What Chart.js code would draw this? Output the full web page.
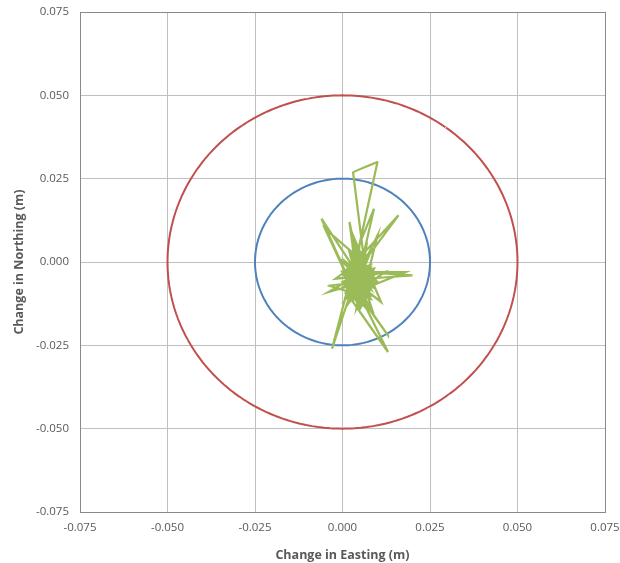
<!DOCTYPE html>
<html>
<head>
<meta charset="utf-8">
<script src="https://cdn.jsdelivr.net/npm/chart.js@4"></script>
<style>
	body { margin: 0; background: #fff; }
	#wrap { width: 620px; height: 563px; }
</style>
</head>
<body>
<div id="wrap"><canvas id="myChart"></canvas></div>
<script>
// axis ticks (m)
const tickValues = [-0.075, -0.05, -0.025, 0, 0.025, 0.05, 0.075];

// tolerance circles (radius in m)
const circleRadii = [0.025, 0.05];
const circleColors = ['#4F81BD', '#C0504D'];

// position changes
const eastings = [
	0.002, 0.005, 0.003, 0.007, 0.004, 0.006, 0.001, 0.008, 0.003, 0.005,
	0.010, 0.003, 0.006, 0.004, 0.009, 0.002, 0.016, 0.004, -0.006, 0.003,
	0.006, -0.005, 0.002, 0.007, 0.020, 0.005, 0.018, 0.004, 0.006, 0.003,
	0.013, 0.005, 0.013, 0.002, -0.003, 0.004, -0.004, 0.006, -0.004, 0.008,
	0.001, 0.009, 0.003, 0.005, 0.002, 0.006, 0.010, 0.004, 0.012, 0.002,
	0.007, 0.004, 0.009, -0.002, 0.006, 0.003, 0.008, 0.000, 0.011, 0.005,
	0.002, 0.007, 0.003, 0.010, 0.001, 0.006, -0.001, 0.008, 0.004, 0.009,
	0.003, 0.005, 0.002, 0.007, 0.004, 0.001, 0.006, 0.003, 0.008, 0.005,
	0.002, 0.006, 0.004, 0.007, 0.001, 0.005, 0.003, 0.008, 0.002, 0.006,
	0.004, 0.003, 0.007, 0.001, 0.005, 0.009, 0.002, 0.004, 0.006, 0.003,
	0.005, 0.001, 0.007, 0.004, 0.002, 0.008, 0.003, 0.006, 0.005, 0.002,
	0.004, 0.007, 0.003, 0.005, 0.006, 0.002, 0.004, 0.008, 0.003, 0.005,
	0.000, 0.006, 0.002, 0.009, 0.004, 0.001, 0.007, 0.003, 0.005, 0.008,
	0.001, 0.004, 0.006, 0.002, 0.007, 0.003, 0.009, 0.005, 0.000, 0.006,
	0.004, 0.008, 0.002, 0.005, 0.003, 0.007, 0.001, 0.006, 0.004, 0.003
];
const northings = [
	-0.003, 0.002, -0.006, -0.002, 0.004, -0.008, -0.004, 0.003, -0.010, 0.006,
	0.030, 0.027, 0.002, -0.007, 0.016, -0.002, 0.014, -0.003, 0.013, -0.008,
	0.000, 0.010, -0.006, -0.005, -0.004, -0.003, -0.003, -0.009, 0.004, -0.012,
	-0.027, -0.010, -0.022, -0.006, -0.026, -0.004, -0.009, -0.006, -0.007, -0.011,
	0.000, -0.007, 0.008, -0.012, 0.012, -0.009, 0.008, -0.005, -0.003, -0.011,
	0.006, -0.014, -0.004, -0.005, 0.001, -0.009, -0.001, -0.003, -0.012, 0.003,
	-0.008, -0.010, 0.002, -0.006, -0.007, -0.004, 0.001, -0.008, 0.000, -0.016,
	-0.004, -0.001, -0.005, -0.007, -0.002, -0.006, -0.010, 0.001, -0.005, -0.008,
	-0.002, -0.011, 0.000, -0.006, -0.009, 0.002, -0.007, -0.003, -0.012, -0.001,
	-0.008, 0.004, -0.010, -0.005, -0.013, -0.002, -0.004, -0.011, -0.003, 0.007,
	-0.006, -0.002, -0.009, 0.001, -0.010, -0.005, -0.007, -0.012, 0.000, -0.004,
	-0.009, -0.006, -0.001, -0.011, -0.003, -0.008, 0.003, -0.007, -0.005, -0.004,
	-0.006, -0.013, 0.003, -0.008, -0.001, -0.010, -0.004, 0.005, -0.011, -0.002,
	-0.007, 0.001, -0.012, -0.004, -0.009, 0.000, -0.006, -0.014, -0.003, -0.005,
	0.002, -0.010, -0.008, 0.006, -0.006, -0.002, -0.011, -0.007, -0.003, -0.005
];

const trace = eastings.map((e, i) => ({x: e, y: northings[i]}));

const circlePoints = (r) => {
	const pts = [];
	for (let a = 0; a <= 360; a += 2) {
		const t = a * Math.PI / 180;
		pts.push({x: r * Math.cos(t), y: r * Math.sin(t)});
	}
	return pts;
};

// tiny tension keeps chart.js off its "fast path" (which merges points in one pixel column)
const datasets = [{
	data: trace,
	showLine: true,
	borderColor: '#9BBB59',
	borderWidth: 2.25,
	pointRadius: 0,
	tension: 0.000001
}];
circleRadii.forEach((r, i) => {
	datasets.push({
		data: circlePoints(r),
		showLine: true,
		borderColor: circleColors[i],
		borderWidth: 2,
		pointRadius: 0,
		tension: 0.000001
	});
});

const tickFont = {family: "'Open Sans', 'Liberation Sans', sans-serif", size: 11.5};
const titleFont = {family: "'Open Sans', 'Liberation Sans', sans-serif", size: 12.5, weight: 'bold'};

const axis = (title, isX) => ({
	type: 'linear',
	min: -0.075,
	max: 0.075,
	afterBuildTicks: (scale) => { scale.ticks = tickValues.map(v => ({value: v})); },
	afterFit: (scale) => {
		if (isX) {
			scale.height = 51;
			scale.paddingLeft = 0;
			scale.paddingRight = 0;
		} else {
			scale.width = 80;
			scale.paddingTop = 0;
			scale.paddingBottom = 0;
		}
	},
	ticks: {
		color: '#595959',
		font: tickFont,
		padding: isX ? 9 : 11,
		maxRotation: 0,
		callback: (v) => v.toFixed(3)
	},
	grid: {
		color: '#BFBFBF',
		lineWidth: 1,
		drawTicks: false
	},
	border: {color: '#898989', width: 1},
	title: {
		display: true,
		text: title,
		color: '#595959',
		font: titleFont,
		padding: isX ? {top: 7, bottom: 0} : {top: 12, bottom: 0}
	}
});

const plotFrame = {
	id: 'plotFrame',
	afterDraw(chart) {
		const {ctx, chartArea: a} = chart;
		ctx.save();
		ctx.strokeStyle = '#898989';
		ctx.lineWidth = 1;
		ctx.strokeRect(a.left + 0.5, a.top + 0.5, a.right - a.left, a.bottom - a.top);
		ctx.restore();
	}
};

new Chart(document.getElementById('myChart'), {
	type: 'scatter',
	data: {datasets: datasets},
	options: {
		responsive: true,
		maintainAspectRatio: false,
		animation: false,
		layout: {padding: {top: 12, right: 15, left: 0, bottom: 0}},
		plugins: {
			legend: {display: false},
			tooltip: {enabled: false}
		},
		scales: {
			x: axis('Change in Easting (m)', true),
			y: axis('Change in Northing (m)', false)
		}
	},
	plugins: [plotFrame]
});
</script>
</body>
</html>
